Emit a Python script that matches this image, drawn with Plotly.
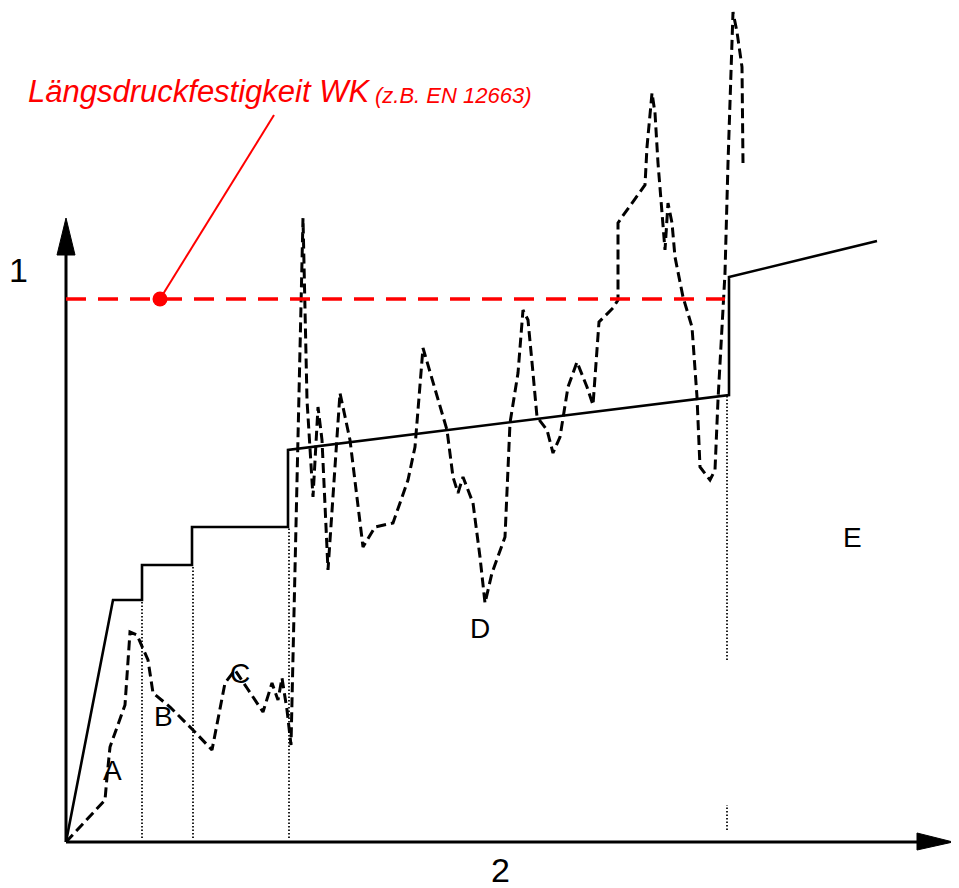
import plotly.graph_objects as go

# Chart units: x to the right of the origin, y upward from the x axis.
# The WK level (label "1") lies at y = 543.

# Solid load curve (stepped, then rising)
solid_x = [0, 47, 76, 76, 126, 126, 222, 222, 663, 663, 811]
solid_y = [0, 242, 242, 277, 277, 315, 315, 392, 447, 565, 601]

# Dashed measured curve
dash_x = [0, 39, 41, 44, 59, 64, 71, 82, 87, 104, 127, 146, 159, 169, 181, 197, 206, 212, 216, 221, 225,
          237, 241, 247, 252, 256, 262, 274, 284, 297, 309, 327, 342, 349, 357, 381, 387, 392, 397, 407,
          414, 419, 426, 439, 444, 452, 457, 462, 467, 471, 481, 487, 494, 499, 502, 511, 521, 527, 529,
          533, 547, 552, 552, 556, 579, 581, 586, 589, 592, 597, 599, 602, 606, 609, 617, 626, 631, 634,
          644, 649, 652, 659, 662, 667, 671, 676, 677]
dash_y = [0, 42, 65, 95, 137, 210, 207, 182, 149, 135, 112, 92, 159, 172, 154, 130, 159, 142, 164, 132, 97,
          624, 442, 345, 435, 402, 272, 449, 402, 295, 315, 319, 362, 395, 494, 412, 365, 349, 365, 339,
          285, 239, 269, 305, 419, 469, 532, 522, 469, 425, 412, 389, 405, 439, 455, 480, 455, 437, 462,
          520, 534, 542, 619, 625, 657, 695, 749, 729, 679, 622, 592, 639, 619, 585, 545, 515, 445, 375,
          362, 372, 442, 569, 679, 830, 810, 775, 679]

# Dotted vertical separators (x, y_start, y_end)
dotted_x = [76, 127, 223, 661, 661]
dotted_y0 = [4, 4, 4, 182, 12]
dotted_y1 = [242, 277, 315, 447, 37]

# Reference level WK
wk_level = 543
wk_x_end = 659
wk_dot_x = 94
leader_end = (208, 727)

# Letters
label_text = ["A", "B", "C", "D", "E"]
label_x = [46, 97, 174, 414, 786]
label_y = [72, 126, 169, 214, 305]

# Axes
y_axis_top = 592
x_axis_right = 854
y_arrow_x = [-9, 9, 0, -9]
y_arrow_y = [587, 587, 624, 587]
x_arrow_x = [851, 851, 887, 851]
x_arrow_y = [9, -8, 0, 9]

fig = go.Figure()

# dotted lines
dx, dy = [], []
for x, a, b in zip(dotted_x, dotted_y0, dotted_y1):
    dx += [x, x, None]
    dy += [a, b, None]
fig.add_trace(go.Scatter(x=dx, y=dy, mode="lines",
                         line=dict(color="#222222", width=2, dash="1.5px,2px")))

# axes
fig.add_trace(go.Scatter(x=[0, 0], y=[0, y_axis_top], mode="lines", line=dict(color="black", width=3)))
fig.add_trace(go.Scatter(x=[0, x_axis_right], y=[0, 0], mode="lines", line=dict(color="black", width=3)))
fig.add_trace(go.Scatter(x=y_arrow_x, y=y_arrow_y, mode="lines", fill="toself", fillcolor="black",
                         line=dict(color="black", width=1)))
fig.add_trace(go.Scatter(x=x_arrow_x, y=x_arrow_y, mode="lines", fill="toself", fillcolor="black",
                         line=dict(color="black", width=1)))

# solid curve
fig.add_trace(go.Scatter(x=solid_x, y=solid_y, mode="lines", line=dict(color="black", width=2.6)))

# dashed curve
fig.add_trace(go.Scatter(x=dash_x, y=dash_y, mode="lines",
                         line=dict(color="black", width=3, dash="10px,5px")))

# WK line
fig.add_trace(go.Scatter(x=[0, wk_x_end], y=[wk_level, wk_level], mode="lines",
                         line=dict(color="#ff0000", width=3.5, dash="20px,12px")))
fig.add_trace(go.Scatter(x=[wk_dot_x, leader_end[0]], y=[wk_level, leader_end[1]], mode="lines",
                         line=dict(color="#ff0000", width=2)))
fig.add_trace(go.Scatter(x=[wk_dot_x], y=[wk_level], mode="markers",
                         marker=dict(color="#ff0000", size=15)))

font_main = "Liberation Sans, Arial, sans-serif"

annotations = []
for t, x, y in zip(label_text, label_x, label_y):
    annotations.append(dict(x=x, y=y, text=t, showarrow=False,
                            font=dict(family=font_main, size=28, color="black")))
annotations.append(dict(x=-48, y=572, text="1", showarrow=False,
                        font=dict(family=font_main, size=34, color="black")))
annotations.append(dict(x=434, y=-28, text="2", showarrow=False,
                        font=dict(family=font_main, size=34, color="black")))
annotations.append(dict(x=-40, y=751, text="<i>Längsdruckfestigkeit WK</i>", showarrow=False,
                        xanchor="left", yanchor="middle",
                        font=dict(family=font_main, size=31, color="#ff0000")))
annotations.append(dict(x=307, y=747, text="<i>(z.B. EN 12663)</i>", showarrow=False,
                        xanchor="left", yanchor="middle",
                        font=dict(family=font_main, size=22, color="#ff0000")))

# the page body adds an 8 px offset, so the ranges are shifted to compensate
fig.update_layout(
    width=959, height=888,
    margin=dict(l=0, r=0, t=0, b=0),
    paper_bgcolor="white", plot_bgcolor="white",
    showlegend=False,
    xaxis=dict(range=[-58, 901], visible=False, fixedrange=True),
    yaxis=dict(range=[-54, 834], visible=False, fixedrange=True),
    annotations=annotations,
)

fig.write_html("out.html")
